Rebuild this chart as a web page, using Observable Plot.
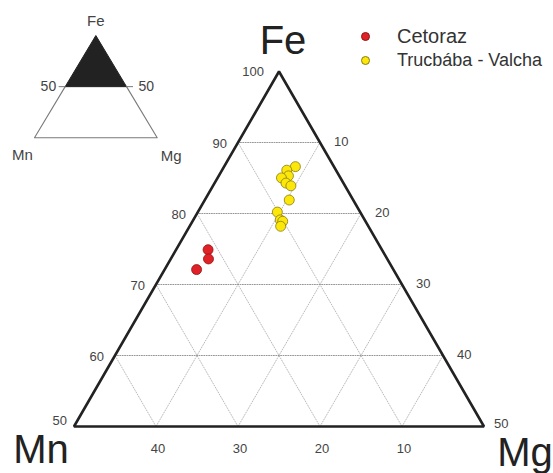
<!DOCTYPE html>
<html><head><meta charset="utf-8">
<script src="https://cdn.jsdelivr.net/npm/d3@7"></script>
<script src="https://cdn.jsdelivr.net/npm/@observablehq/plot@0.6"></script>
<style>
body{margin:0;background:#fff;font-family:"Liberation Sans",Arial,sans-serif;}
#wrap{position:relative;width:553px;height:473px;overflow:hidden;background:#fff;}
#wrap > svg, #wrap > div.plot, #wrap > figure{position:absolute;left:0;top:0;margin:0;}
#legend{position:absolute;left:361px;top:24px;color:#333;}
#legend .row{display:flex;align-items:center;height:24px;white-space:nowrap;}
#legend .sw{width:9px;height:9px;border-radius:50%;margin-right:27px;box-sizing:border-box;flex:none;}
</style></head><body><div id="wrap"></div>
<script>
// ---- data ----
const axisNames = ["Fe", "Mn", "Mg"];
const groups = ["Cetoraz", "Trucbába - Valcha"];
const groupFill = ["#e02128", "#fbe80a"];
const groupStroke = ["#8e1515", "#8a7a10"];
const legendSize = [20, 18];

const cetorazFe = [74.9, 73.6, 72.1];
const cetorazMn = [21.2, 21.8, 24.0];
const cetorazMg = [3.9, 4.6, 3.9];

const trucFe = [86.6, 86.1, 85.3, 85.1, 84.2, 83.9, 81.9, 80.2, 79.1, 78.9, 78.2];
const trucMn = [4.7, 6.0, 6.2, 7.2, 7.0, 6.6, 7.8, 10.1, 10.3, 10.1, 10.7];
const trucMg = [8.7, 7.9, 8.5, 7.8, 8.7, 9.5, 10.3, 9.7, 10.6, 11.0, 11.1];

const feTicks = [50, 60, 70, 80, 90, 100];
const mgTicks = [10, 20, 30, 40, 50];
const mnTicks = [40, 30, 20, 10];
const gridLevels = [10, 20, 30, 40];
const insetCut = 50;

// ---- ternary helper ----
function tern(fe, mn, mg) {
  const s = fe + mn + mg;
  return {x: (mg - mn) / 2 * 100 / s, y: fe * 100 / s};
}

const cetoraz = cetorazFe.map((f, i) => tern(f, cetorazMn[i], cetorazMg[i]));
const truc = trucFe.map((f, i) => tern(f, trucMn[i], trucMg[i]));

// grid lines
const gridH = [], gridS = [];
let gid = 0;
for (const v of gridLevels) {
  const fe = 100 - v; // horizontal Fe lines 60..90
  gridH.push({...tern(fe, 100 - fe, 0), id: gid}, {...tern(fe, 0, 100 - fe), id: gid}); gid++;
  gridS.push({...tern(50, 50 - v, v), id: gid}, {...tern(100 - v, 0, v), id: gid}); gid++;
  gridS.push({...tern(50, v, 50 - v), id: gid}, {...tern(100 - v, v, 0), id: gid}); gid++;
}

const outline = [tern(50, 25, 25), tern(50, 0, 50), tern(100, 0, 0), tern(50, 50, 0), tern(50, 25, 25)];

const FONT = "Liberation Sans, Arial, sans-serif";
const labelStyle = {fontSize: 13, fill: "#444", fontFamily: FONT};
const bigStyle = {fontSize: 40, fill: "#222", fontFamily: FONT};

const main = Plot.plot({
  width: 553, height: 473, margin: 0,
  style: {background: "transparent", overflow: "visible"},
  x: {domain: [-25, 25], range: [73.5, 483.5], axis: null},
  y: {domain: [50, 100], range: [426, 71], axis: null},
  marks: [
    Plot.line(gridS, {x: "x", y: "y", z: "id", stroke: "#a8a8a8", strokeWidth: 0.8, strokeDasharray: "1,1.6"}),
    Plot.line(gridH, {x: "x", y: "y", z: "id", stroke: "#8c8c8c", strokeWidth: 0.9, strokeDasharray: "1,1.4"}),
    Plot.line(outline, {x: "x", y: "y", stroke: "#222", strokeWidth: 2.6, strokeLinejoin: "miter"}),
    Plot.dot(cetoraz, {x: "x", y: "y", r: 5, fill: groupFill[0], stroke: groupStroke[0], strokeWidth: 0.8}),
    Plot.dot(truc, {x: "x", y: "y", r: 5, fill: groupFill[1], stroke: groupStroke[1], strokeWidth: 0.8}),
    // Fe ticks (left side)
    Plot.text(feTicks.filter(d => d > 50 && d < 100), {x: d => tern(d, 100 - d, 0).x, y: d => d, text: d => String(d), textAnchor: "end", dx: -11, dy: 1, ...labelStyle}),
    Plot.text(feTicks.filter(d => d === 100), {x: d => tern(d, 100 - d, 0).x, y: d => d, text: d => String(d), textAnchor: "end", dx: -15, dy: 0, ...labelStyle}),
    Plot.text(feTicks.filter(d => d === 50), {x: d => tern(d, 100 - d, 0).x, y: d => d, text: d => String(d), textAnchor: "end", dx: -7, dy: -6, ...labelStyle}),
    // Mg ticks (right side)
    Plot.text(mgTicks.filter(d => d < 50), {x: d => tern(100 - d, 0, d).x, y: d => 100 - d, text: d => String(d), textAnchor: "start", dx: 14, dy: -1, ...labelStyle}),
    Plot.text(mgTicks.filter(d => d === 50), {x: d => tern(100 - d, 0, d).x, y: d => 100 - d, text: d => String(d), textAnchor: "start", dx: 10, dy: -3, ...labelStyle}),
    // Mn ticks (base)
    Plot.text(mnTicks, {x: d => tern(50, d, 50 - d).x, y: 50, text: d => String(d), dx: 2, dy: 22, ...labelStyle}),
    // apex names
    Plot.text([axisNames[0]], {x: tern(100, 0, 0).x, y: 100, text: d => d, dx: 4, dy: -30, ...bigStyle}),
    Plot.text([axisNames[1]], {x: tern(50, 50, 0).x, y: 50, text: d => d, dx: -33, dy: 24, ...bigStyle}),
    Plot.text([axisNames[2]], {x: tern(50, 0, 50).x, y: 50, text: d => d, dx: 41, dy: 27, ...bigStyle})
  ]
});

// ---- inset ----
const insetTop = [tern(insetCut, 100 - insetCut, 0), tern(100, 0, 0), tern(insetCut, 0, 100 - insetCut), tern(insetCut, 100 - insetCut, 0)];
const insetBottom = [tern(insetCut, 100 - insetCut, 0), tern(0, 100, 0), tern(0, 0, 100), tern(insetCut, 0, 100 - insetCut)];
const insetTickL = [{x: tern(insetCut, 100 - insetCut, 0).x - 5, y: insetCut}, {x: tern(insetCut, 100 - insetCut, 0).x, y: insetCut}];
const insetTickR = [{x: tern(insetCut, 0, 100 - insetCut).x, y: insetCut}, {x: tern(insetCut, 0, 100 - insetCut).x + 5, y: insetCut}];
const smallStyle = {fontSize: 14, fill: "#444", fontFamily: FONT};
const nameStyle = {fontSize: 15, fill: "#444", fontFamily: FONT};

const inset = Plot.plot({
  width: 200, height: 180, margin: 0,
  style: {background: "transparent", overflow: "visible"},
  x: {domain: [-50, 50], range: [34, 156.7], axis: null},
  y: {domain: [0, 100], range: [137.3, 35], axis: null},
  marks: [
    Plot.line(insetBottom, {x: "x", y: "y", stroke: "#7a7a7a", strokeWidth: 1.1}),
    Plot.line(insetTop, {x: "x", y: "y", fill: "#222", stroke: "#222", strokeWidth: 1}),
    Plot.line(insetTickL, {x: "x", y: "y", stroke: "#7a7a7a", strokeWidth: 1}),
    Plot.line(insetTickR, {x: "x", y: "y", stroke: "#7a7a7a", strokeWidth: 1}),
    Plot.text([insetCut], {x: tern(insetCut, 100 - insetCut, 0).x, y: insetCut, text: d => String(d), textAnchor: "end", dx: -9, ...smallStyle}),
    Plot.text([insetCut], {x: tern(insetCut, 0, 100 - insetCut).x, y: insetCut, text: d => String(d), textAnchor: "start", dx: 12, ...smallStyle}),
    Plot.text([axisNames[0]], {x: 0, y: 100, text: d => d, dy: -14, ...nameStyle}),
    Plot.text([axisNames[1]], {x: -50, y: 0, text: d => d, dx: -12, dy: 17, ...nameStyle}),
    Plot.text([axisNames[2]], {x: 50, y: 0, text: d => d, dx: 14, dy: 18, ...nameStyle})
  ]
});

const wrap = document.getElementById("wrap");
wrap.appendChild(main);
wrap.appendChild(inset);

// ---- legend ----
const legend = document.createElement("div");
legend.id = "legend";
groups.forEach((g, i) => {
  const row = document.createElement("div");
  row.className = "row";
  const sw = document.createElement("span");
  sw.className = "sw";
  sw.style.background = groupFill[i];
  sw.style.border = "1px solid " + groupStroke[i];
  const t = document.createElement("span");
  t.textContent = g;
  t.style.fontSize = legendSize[i] + "px";
  row.appendChild(sw); row.appendChild(t);
  legend.appendChild(row);
});
wrap.appendChild(legend);
</script></body></html>
